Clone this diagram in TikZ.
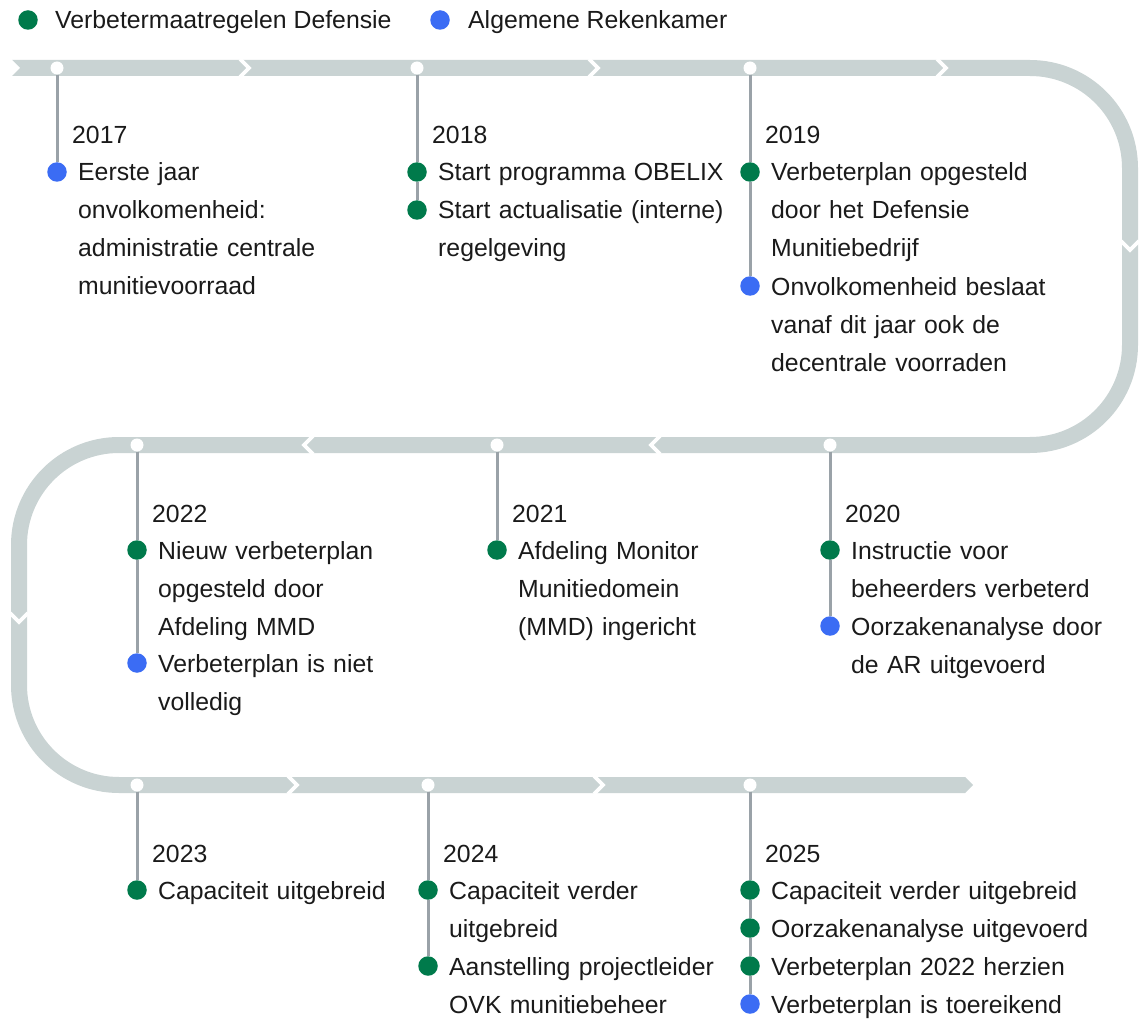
\documentclass[tikz,border=0pt]{standalone}
\usepackage{fontspec}
\setmainfont{Liberation Sans}
\definecolor{track}{HTML}{C9D3D3}
\definecolor{stemgray}{HTML}{9AA2A8}
\definecolor{defgreen}{HTML}{007A4B}
\definecolor{arblue}{HTML}{3B6CF4}
\definecolor{ink}{HTML}{1A1A1A}

\tikzset{
  stop/.style={circle, fill=white, inner sep=0pt, minimum size=13pt},
  mgreen/.style={circle, fill=defgreen, inner sep=0pt, minimum size=19.5pt},
  mblue/.style={circle, fill=arblue, inner sep=0pt, minimum size=19.5pt},
  txt/.style={anchor=base west, inner sep=0pt, text=ink,
    font=\fontsize{24.8}{38}\selectfont},
  item/.style={txt, text width=420pt, align=left},
  notch/.style={white, line width=3.6pt, line join=miter},
  stem/.style={stemgray, line width=3pt}
}

\begin{document}
\begin{tikzpicture}[x=1pt, y=-1pt]
  \useasboundingbox (0,0) rectangle (1141,1019);

  % legend
  \node[mgreen] (lgreen) at (28,20) {};
  \node[txt] (lgreentxt) at ([xshift=27pt, yshift=-9pt]lgreen.center)
    {Verbetermaatregelen Defensie};
  \node[mblue] (lblue) at (440,20) {};
  \node[txt] (lbluetxt) at ([xshift=28pt, yshift=-9pt]lblue.center)
    {Algemene Rekenkamer};

  % the track
  \draw[track, line width=16pt, rounded corners=100pt]
    (12,68) -- (1130,68) -- (1130,445) -- (19,445) -- (19,785) -- (965,785);
  \fill[track] (965,777) -- (973,785) -- (965,793) -- cycle;
  \fill[white] (11,59) -- (20,68) -- (11,77) -- cycle;
  \draw[notch] (240,59) -- (249,68) -- (240,77);
  \draw[notch] (589,59) -- (598,68) -- (589,77);
  \draw[notch] (937,59) -- (946,68) -- (937,77);
  \draw[notch] (1121,241) -- (1130,250) -- (1139,241);
  \draw[notch] (660,436) -- (651,445) -- (660,454);
  \draw[notch] (313,436) -- (304,445) -- (313,454);
  \draw[notch] (10,613) -- (19,622) -- (28,613);
  \draw[notch] (288,776) -- (297,785) -- (288,794);
  \draw[notch] (594,776) -- (603,785) -- (594,794);

  % stops on the track
  \node[stop] (d17) at (57,68) {};
  \node[stop] (d18) at (417,68) {};
  \node[stop] (d19) at (750,68) {};
  \node[stop] (d22) at (137,445) {};
  \node[stop] (d21) at (497,445) {};
  \node[stop] (d20) at (830,445) {};
  \node[stop] (d23) at (137,785) {};
  \node[stop] (d24) at (428,785) {};
  \node[stop] (d25) at (750,785) {};

  % 2017
  \node[mblue] (b17a) at (57,172) {};
  \draw[stem] (d17) -- (b17a);
  \node[txt] (y17) at ([xshift=15pt, yshift=28pt]b17a.center) {2017};
  \node[item] (t17a) at ([xshift=21pt, yshift=-9pt]b17a.center)
    {Eerste jaar\\onvolkomenheid:\\administratie centrale\\munitievoorraad};

  % 2018
  \node[mgreen] (b18a) at (417,172) {};
  \node[mgreen] (b18b) at (417,210) {};
  \draw[stem] (d18) -- (b18a) -- (b18b);
  \node[txt] (y18) at ([xshift=15pt, yshift=28pt]b18a.center) {2018};
  \node[item] (t18a) at ([xshift=21pt, yshift=-9pt]b18a.center)
    {Start programma OBELIX};
  \node[item] (t18b) at ([xshift=21pt, yshift=-9pt]b18b.center)
    {Start actualisatie (interne)\\regelgeving};

  % 2019
  \node[mgreen] (b19a) at (750,172) {};
  \node[mblue] (b19b) at (750,286) {};
  \draw[stem] (d19) -- (b19a) -- (b19b);
  \node[txt] (y19) at ([xshift=15pt, yshift=28pt]b19a.center) {2019};
  \node[item] (t19a) at ([xshift=21pt, yshift=-9pt]b19a.center)
    {Verbeterplan opgesteld\\door het Defensie\\Munitiebedrijf};
  \node[item] (t19b) at ([xshift=21pt, yshift=-9pt]b19b.center)
    {Onvolkomenheid beslaat\\vanaf dit jaar ook de\\decentrale voorraden};

  % 2020
  \node[mgreen] (b20a) at (830,550) {};
  \node[mblue] (b20b) at (830,626) {};
  \draw[stem] (d20) -- (b20a) -- (b20b);
  \node[txt] (y20) at ([xshift=15pt, yshift=28pt]b20a.center) {2020};
  \node[item] (t20a) at ([xshift=21pt, yshift=-9pt]b20a.center)
    {Instructie voor\\beheerders verbeterd};
  \node[item] (t20b) at ([xshift=21pt, yshift=-9pt]b20b.center)
    {Oorzakenanalyse door\\de AR uitgevoerd};

  % 2021
  \node[mgreen] (b21a) at (497,550) {};
  \draw[stem] (d21) -- (b21a);
  \node[txt] (y21) at ([xshift=15pt, yshift=28pt]b21a.center) {2021};
  \node[item] (t21a) at ([xshift=21pt, yshift=-9pt]b21a.center)
    {Afdeling Monitor\\Munitiedomein\\(MMD) ingericht};

  % 2022
  \node[mgreen] (b22a) at (137,550) {};
  \node[mblue] (b22b) at (137,663) {};
  \draw[stem] (d22) -- (b22a) -- (b22b);
  \node[txt] (y22) at ([xshift=15pt, yshift=28pt]b22a.center) {2022};
  \node[item] (t22a) at ([xshift=21pt, yshift=-9pt]b22a.center)
    {Nieuw verbeterplan\\opgesteld door\\Afdeling MMD};
  \node[item] (t22b) at ([xshift=21pt, yshift=-9pt]b22b.center)
    {Verbeterplan is niet\\volledig};

  % 2023
  \node[mgreen] (b23a) at (137,890) {};
  \draw[stem] (d23) -- (b23a);
  \node[txt] (y23) at ([xshift=15pt, yshift=28pt]b23a.center) {2023};
  \node[item] (t23a) at ([xshift=21pt, yshift=-9pt]b23a.center)
    {Capaciteit uitgebreid};

  % 2024
  \node[mgreen] (b24a) at (428,890) {};
  \node[mgreen] (b24b) at (428,966) {};
  \draw[stem] (d24) -- (b24a) -- (b24b);
  \node[txt] (y24) at ([xshift=15pt, yshift=28pt]b24a.center) {2024};
  \node[item] (t24a) at ([xshift=21pt, yshift=-9pt]b24a.center)
    {Capaciteit verder\\uitgebreid};
  \node[item] (t24b) at ([xshift=21pt, yshift=-9pt]b24b.center)
    {Aanstelling projectleider\\OVK munitiebeheer};

  % 2025
  \node[mgreen] (b25a) at (750,890) {};
  \node[mgreen] (b25b) at (750,928) {};
  \node[mgreen] (b25c) at (750,966) {};
  \node[mblue] (b25d) at (750,1004) {};
  \draw[stem] (d25) -- (b25a) -- (b25b) -- (b25c) -- (b25d);
  \node[txt] (y25) at ([xshift=15pt, yshift=28pt]b25a.center) {2025};
  \node[item] (t25a) at ([xshift=21pt, yshift=-9pt]b25a.center)
    {Capaciteit verder uitgebreid};
  \node[item] (t25b) at ([xshift=21pt, yshift=-9pt]b25b.center)
    {Oorzakenanalyse uitgevoerd};
  \node[item] (t25c) at ([xshift=21pt, yshift=-9pt]b25c.center)
    {Verbeterplan 2022 herzien};
  \node[item] (t25d) at ([xshift=21pt, yshift=-9pt]b25d.center)
    {Verbeterplan is toereikend};
\end{tikzpicture}
\end{document}
